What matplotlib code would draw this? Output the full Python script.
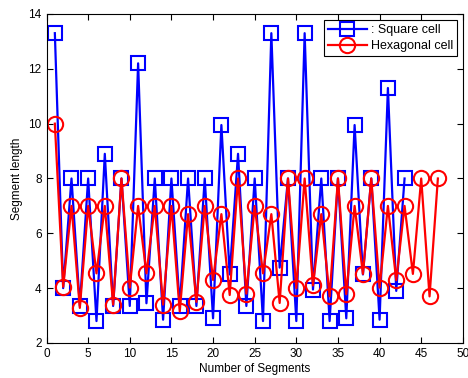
import matplotlib
matplotlib.use("Agg")
import matplotlib.pyplot as plt

plt.rcParams['font.family'] = ['Liberation Sans', 'DejaVu Sans']

# segment lengths, square cell
sq_x = list(range(1, 44))
sq_y = [13.3, 4.0, 8.0, 3.35, 8.0, 2.8, 8.9, 3.35, 8.0, 3.35,
        12.2, 3.45, 8.0, 2.85, 8.0, 3.35, 8.0, 3.35, 8.0, 2.9,
        9.95, 4.5, 8.9, 3.35, 8.0, 2.8, 13.3, 4.75, 8.0, 2.8,
        13.3, 3.95, 8.0, 2.8, 8.0, 2.9, 9.95, 4.5, 8.0, 2.85,
        11.3, 3.9, 8.0]

# segment lengths, hexagonal cell
hx_x = list(range(1, 48))
hx_y = [10.0, 4.05, 7.0, 3.28, 7.0, 4.54, 7.0, 3.4, 8.0, 4.02,
        7.0, 4.54, 7.0, 3.4, 7.0, 3.15, 6.7, 3.5, 7.0, 4.3,
        6.7, 3.75, 8.0, 3.8, 7.0, 4.54, 6.7, 3.46, 8.0, 4.0,
        8.0, 4.1, 6.7, 3.7, 8.0, 3.78, 7.0, 4.52, 8.0, 4.02,
        7.0, 4.29, 7.0, 4.52, 8.0, 3.7, 8.0]

fig = plt.figure(figsize=(4.68, 3.78), dpi=100)
ax = fig.add_axes([0.0994, 0.0926, 0.8896, 0.8704])

ax.plot(sq_x, sq_y, color='b', lw=1.6, marker='s', markersize=10,
        markerfacecolor='none', markeredgewidth=1.5, label=': Square cell')
ax.plot(hx_x, hx_y, color='r', lw=1.6, marker='o', markersize=11,
        markerfacecolor='none', markeredgewidth=1.5, label='Hexagonal cell')

ax.set_xlim(0, 50)
ax.set_ylim(2, 14)
ax.set_xticks(range(0, 51, 5))
ax.set_yticks(range(2, 15, 2))
ax.tick_params(direction='in', top=True, right=True, labelsize=8.5, length=4)
ax.set_xlabel('Number of Segments', fontsize=8.5, labelpad=2)
ax.set_ylabel('Segment length', fontsize=8.5, labelpad=4)

leg = ax.legend(loc='upper right', fontsize=9, fancybox=False,
                edgecolor='k', framealpha=1, borderaxespad=0.5,
                handlelength=3.1, borderpad=0.3, labelspacing=0.35,
                handletextpad=0.3)
leg.get_frame().set_linewidth(0.8)

fig.savefig('out.png', dpi=100)
